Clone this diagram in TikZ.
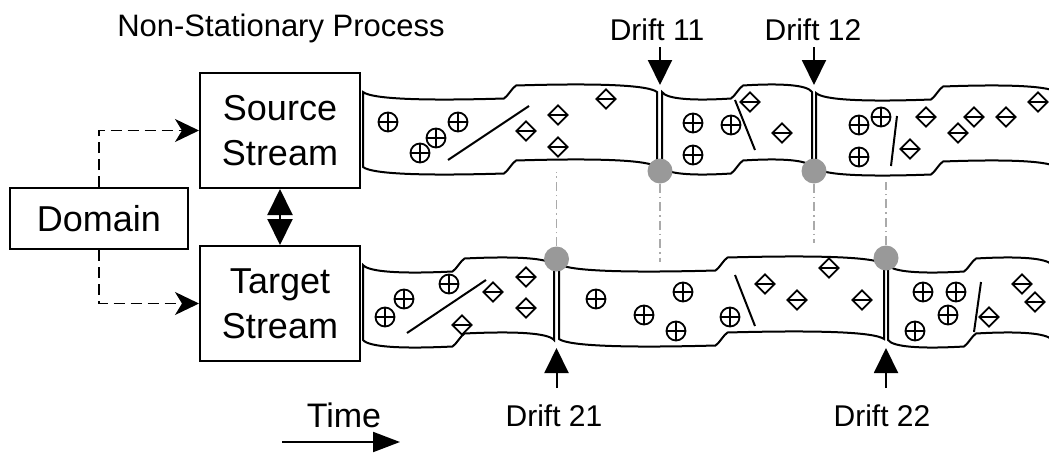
\documentclass[tikz,border=0pt]{standalone}
\usepackage{fontspec}
\setmainfont{Liberation Sans}
\usepackage{tikz}
\usetikzlibrary{arrows.meta,shapes.geometric,positioning,calc}

\definecolor{driftgray}{RGB}{153,153,153}
\definecolor{linkgray}{RGB}{170,170,170}

% one piece of a data stream (tape): left x, right x, top y
\newcommand{\tapeseg}[3]{%
  \pgfmathsetmacro{\tpL}{#1}%
  \pgfmathsetmacro{\tpR}{#2}%
  \pgfmathsetmacro{\tpM}{(#1+#2)/2}%
  \pgfmathsetmacro{\tpW}{#2-#1}%
  \pgfmathsetmacro{\tpT}{#3}%
  \pgfmathsetmacro{\tpB}{#3+75}%
  \draw[tape] (\tpL,\tpT)
    .. controls ({\tpL+0.03*\tpW},{\tpT+7}) and ({\tpM-0.3*\tpW},{\tpT+9}) .. ({\tpM-6},{\tpT+6.5})
    .. controls ({\tpM-2},{\tpT+4}) and ({\tpM+2},{\tpT-4}) .. ({\tpM+6},{\tpT-6.5})
    .. controls ({\tpM+0.3*\tpW},{\tpT-9}) and ({\tpR-0.03*\tpW},{\tpT-7}) .. (\tpR,\tpT)
    -- (\tpR,\tpB)
    .. controls ({\tpR-0.03*\tpW},{\tpB-7}) and ({\tpM+0.3*\tpW},{\tpB-9}) .. ({\tpM+6},{\tpB-6.5})
    .. controls ({\tpM+2},{\tpB-4}) and ({\tpM-2},{\tpB+4}) .. ({\tpM-6},{\tpB+6.5})
    .. controls ({\tpM-0.3*\tpW},{\tpB+9}) and ({\tpL+0.03*\tpW},{\tpB+7}) .. (\tpL,\tpB)
    -- cycle;
}

\begin{document}
\begin{tikzpicture}[x=1pt,y=-1pt]

   \tikzstyle{box}=[draw,line width=2pt,minimum width=160pt,minimum height=115pt,align=center,
                    font=\fontsize{36pt}{45pt}\selectfont]
   \tikzstyle{tape}=[line width=2pt]
   \tikzstyle{classa}=[circle,draw,line width=1.8pt,minimum size=19pt,inner sep=0pt,
                       path picture={\draw[line width=1.8pt]
                         (path picture bounding box.north) -- (path picture bounding box.south)
                         (path picture bounding box.west) -- (path picture bounding box.east);}]
   \tikzstyle{classb}=[diamond,draw,line width=1.8pt,minimum size=20pt,inner sep=0pt,
                       path picture={\draw[line width=1.8pt]
                         (path picture bounding box.west) -- (path picture bounding box.east);}]
   \tikzstyle{driftpt}=[circle,fill=driftgray,minimum size=25pt,inner sep=0pt]
   \tikzstyle{driftlbl}=[anchor=base,inner sep=0pt,font=\fontsize{30pt}{36pt}\selectfont]
   \tikzstyle{drift}=[line width=2pt,-{Triangle[length=25pt,width=24pt]}]
   \tikzstyle{link}=[linkgray,line width=1.6pt,dash pattern=on 9pt off 4pt on 1.5pt off 4pt]
   \tikzstyle{dasharrow}=[line width=1.6pt,dash pattern=on 11pt off 6pt,
                          -{Stealth[length=24pt,width=23pt,inset=7pt]}]

   \useasboundingbox (0,0) rectangle (1049,453);
   \clip (0,0) rectangle (1049,453);

   % boxes on the left
   \node[box] (source) at (280,130.5) {Source\\Stream};
   \node[box,below=56pt of source] (target) {Target\\Stream};
   \node[box,minimum width=178pt,minimum height=61pt] (domain) at (99,218.5) {Domain};

   \draw[dasharrow] (domain.north) |- (source.west);
   \draw[dasharrow] (domain.south) |- (target.west);
   \draw[line width=2pt,{Triangle[length=26pt,width=25pt]}-{Triangle[length=26pt,width=25pt]}]
        (source) -- (target);

   \node[anchor=base,font=\fontsize{31pt}{36pt}\selectfont] (title) at (281,36) {Non-Stationary Process};

   % source stream
   \tapeseg{363}{657}{92}
   \tapeseg{662}{812}{92}
   \tapeseg{816}{1058}{93}

   % target stream
   \tapeseg{363}{554}{265}
   \tapeseg{559}{884}{264}
   \tapeseg{888}{1052}{265}

   % samples in the source stream
   \foreach \x/\y [count=\i] in {388/122,436/138,458/122,420/153,693/123,693/155,
                                 731/125,859/125,881/117,859/157}
      \node[classa] (sa\i) at (\x,\y) {};
   \foreach \x/\y [count=\i] in {526/131,558/115,558/147,606/99,750/102,782/133,
                                 910/149,926/117,958/133,974/117,1006/117,1038/102}
      \node[classb] (sb\i) at (\x,\y) {};
   \draw[tape] (448,160) -- (529,106);
   \draw[tape] (735,100) -- (755,150);
   \draw[tape] (897,116) -- (891,166);

   % samples in the target stream
   \foreach \x/\y [count=\i] in {385/317,404/299,449/284,596/299,644/315,683/292,
                                 676/331,730/317,923/292,956/292,948/315,915/331}
      \node[classa] (ta\i) at (\x,\y) {};
   \foreach \x/\y [count=\i] in {462/325,493/292,526/277,526/308,765/284,797/300,
                                 829/268,862/300,989/317,1022/284,1035/302}
      \node[classb] (tb\i) at (\x,\y) {};
   \draw[tape] (407,333) -- (486,280);
   \draw[tape] (735,275) -- (755,326);
   \draw[tape] (981,282) -- (974,332);

   % drift points
   \node[driftpt] (c11) at (660,171) {};
   \node[driftpt] (c12) at (814,171) {};
   \node[driftpt] (c21) at (556.5,259) {};
   \node[driftpt] (c22) at (886,258) {};

   \coordinate (e11) at (660,262);
   \coordinate (e12) at (814,243);
   \coordinate (e21) at (556.5,172);
   \coordinate (e22) at (886,182);
   \draw[link] (c11) -- (e11);
   \draw[link] (c12) -- (e12);
   \draw[link] (c21) -- (e21);
   \draw[link] (c22) -- (e22);

   % drift labels and arrows
   \node[driftlbl] (d11) at (657,40) {Drift 11};
   \node[driftlbl] (d12) at (813,40) {Drift 12};
   \node[driftlbl] (d21) at (554,426) {Drift 21};
   \node[driftlbl] (d22) at (882,426) {Drift 22};

   \coordinate (s11) at (660,47);  \coordinate (t11) at (660,85);
   \coordinate (s12) at (814,47);  \coordinate (t12) at (814,85);
   \coordinate (s21) at (556.5,388); \coordinate (t21) at (556.5,348);
   \coordinate (s22) at (886,388); \coordinate (t22) at (886,348);
   \draw[drift] (s11) -- (t11);
   \draw[drift] (s12) -- (t12);
   \draw[drift] (s21) -- (t21);
   \draw[drift] (s22) -- (t22);

   % time axis
   \node[anchor=base,font=\fontsize{34pt}{40pt}\selectfont] (time) at (344,427) {Time};
   \coordinate (t0) at (282,442);
   \coordinate (t1) at (400,442);
   \draw[line width=2pt,-{Triangle[length=27pt,width=20pt]}] (t0) -- (t1);

\end{tikzpicture}
\end{document}
